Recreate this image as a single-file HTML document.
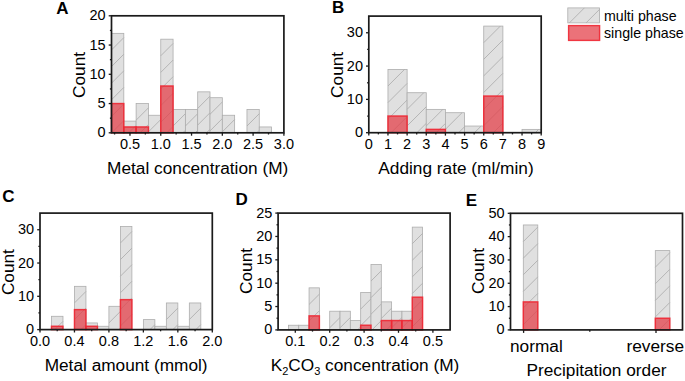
<!DOCTYPE html>
<html><head><meta charset="utf-8"><style>
html,body{margin:0;padding:0;background:#fff;width:685px;height:381px;overflow:hidden}
svg{display:block}
text{font-family:"Liberation Sans",sans-serif;fill:#000}
</style></head><body>
<svg width="685" height="381" viewBox="0 0 685 381">
<rect width="685" height="381" fill="#fff"/>

<rect x="111.5" y="33.35" width="12.31" height="99.45" fill="#e0e0e0"/>
<path d="M111.5,49.95L123.81,37.64M111.5,66.55L123.81,54.24M111.5,83.15L123.81,70.84M111.5,99.75L123.81,87.44M111.5,116.35L123.81,104.04M111.65,132.8L123.81,120.64" stroke="#a6a6a6" stroke-width="0.75" fill="none"/>
<rect x="111.5" y="33.35" width="12.31" height="99.45" fill="none" stroke="#adadad" stroke-width="0.8"/>
<rect x="123.81" y="121.1" width="12.31" height="11.7" fill="#e0e0e0"/>
<path d="M128.71,132.8L136.13,125.39" stroke="#a6a6a6" stroke-width="0.75" fill="none"/>
<rect x="123.81" y="121.1" width="12.31" height="11.7" fill="none" stroke="#adadad" stroke-width="0.8"/>
<rect x="136.13" y="103.55" width="12.31" height="29.25" fill="#e0e0e0"/>
<path d="M136.13,120.15L148.44,107.84M140.08,132.8L148.44,124.44" stroke="#a6a6a6" stroke-width="0.75" fill="none"/>
<rect x="136.13" y="103.55" width="12.31" height="29.25" fill="none" stroke="#adadad" stroke-width="0.8"/>
<rect x="148.44" y="115.25" width="12.31" height="17.55" fill="#e0e0e0"/>
<path d="M148.44,131.85L160.76,119.54" stroke="#a6a6a6" stroke-width="0.75" fill="none"/>
<rect x="148.44" y="115.25" width="12.31" height="17.55" fill="none" stroke="#adadad" stroke-width="0.8"/>
<rect x="160.76" y="39.2" width="12.31" height="93.6" fill="#e0e0e0"/>
<path d="M160.76,55.8L173.07,43.49M160.76,72.4L173.07,60.09M160.76,89L173.07,76.69M160.76,105.6L173.07,93.29M160.76,122.2L173.07,109.89M166.76,132.8L173.07,126.49" stroke="#a6a6a6" stroke-width="0.75" fill="none"/>
<rect x="160.76" y="39.2" width="12.31" height="93.6" fill="none" stroke="#adadad" stroke-width="0.8"/>
<rect x="173.07" y="109.4" width="12.31" height="23.4" fill="#e0e0e0"/>
<path d="M173.07,126L185.39,113.69M182.87,132.8L185.39,130.29" stroke="#a6a6a6" stroke-width="0.75" fill="none"/>
<rect x="173.07" y="109.4" width="12.31" height="23.4" fill="none" stroke="#adadad" stroke-width="0.8"/>
<rect x="185.39" y="109.4" width="12.31" height="23.4" fill="#e0e0e0"/>
<path d="M185.39,126L197.7,113.69M195.19,132.8L197.7,130.29" stroke="#a6a6a6" stroke-width="0.75" fill="none"/>
<rect x="185.39" y="109.4" width="12.31" height="23.4" fill="none" stroke="#adadad" stroke-width="0.8"/>
<rect x="197.7" y="91.85" width="12.31" height="40.95" fill="#e0e0e0"/>
<path d="M197.7,108.45L210.01,96.14M197.7,125.05L210.01,112.74M206.55,132.8L210.01,129.34" stroke="#a6a6a6" stroke-width="0.75" fill="none"/>
<rect x="197.7" y="91.85" width="12.31" height="40.95" fill="none" stroke="#adadad" stroke-width="0.8"/>
<rect x="210.01" y="97.7" width="12.31" height="35.1" fill="#e0e0e0"/>
<path d="M210.01,114.3L222.33,101.99M210.01,130.9L222.33,118.59" stroke="#a6a6a6" stroke-width="0.75" fill="none"/>
<rect x="210.01" y="97.7" width="12.31" height="35.1" fill="none" stroke="#adadad" stroke-width="0.8"/>
<rect x="222.33" y="115.25" width="12.31" height="17.55" fill="#e0e0e0"/>
<path d="M222.33,131.85L234.64,119.54" stroke="#a6a6a6" stroke-width="0.75" fill="none"/>
<rect x="222.33" y="115.25" width="12.31" height="17.55" fill="none" stroke="#adadad" stroke-width="0.8"/>
<rect x="246.96" y="109.4" width="12.31" height="23.4" fill="#e0e0e0"/>
<path d="M246.96,126L259.27,113.69M256.76,132.8L259.27,130.29" stroke="#a6a6a6" stroke-width="0.75" fill="none"/>
<rect x="246.96" y="109.4" width="12.31" height="23.4" fill="none" stroke="#adadad" stroke-width="0.8"/>
<rect x="259.27" y="126.95" width="12.31" height="5.85" fill="#e0e0e0"/>
<path d="M270.02,132.8L271.59,131.24" stroke="#a6a6a6" stroke-width="0.75" fill="none"/>
<rect x="259.27" y="126.95" width="12.31" height="5.85" fill="none" stroke="#adadad" stroke-width="0.8"/>
<rect x="111.5" y="103.55" width="12.31" height="29.25" fill="rgba(228,65,74,0.74)" stroke="rgba(240,38,50,0.9)" stroke-width="1.45"/>
<rect x="123.81" y="126.95" width="12.31" height="5.85" fill="rgba(228,65,74,0.74)" stroke="rgba(240,38,50,0.9)" stroke-width="1.45"/>
<rect x="136.13" y="126.95" width="12.31" height="5.85" fill="rgba(228,65,74,0.74)" stroke="rgba(240,38,50,0.9)" stroke-width="1.45"/>
<rect x="160.76" y="86" width="12.31" height="46.8" fill="rgba(228,65,74,0.74)" stroke="rgba(240,38,50,0.9)" stroke-width="1.45"/>
<line x1="129.97" y1="132.8" x2="129.97" y2="135.7" stroke="#1a1a1a" stroke-width="1.3"/>
<line x1="160.76" y1="132.8" x2="160.76" y2="135.7" stroke="#1a1a1a" stroke-width="1.3"/>
<line x1="191.54" y1="132.8" x2="191.54" y2="135.7" stroke="#1a1a1a" stroke-width="1.3"/>
<line x1="222.33" y1="132.8" x2="222.33" y2="135.7" stroke="#1a1a1a" stroke-width="1.3"/>
<line x1="253.11" y1="132.8" x2="253.11" y2="135.7" stroke="#1a1a1a" stroke-width="1.3"/>
<line x1="283.9" y1="132.8" x2="283.9" y2="135.7" stroke="#1a1a1a" stroke-width="1.3"/>
<line x1="114.58" y1="132.8" x2="114.58" y2="134.5" stroke="#1a1a1a" stroke-width="1.3"/>
<line x1="145.36" y1="132.8" x2="145.36" y2="134.5" stroke="#1a1a1a" stroke-width="1.3"/>
<line x1="176.15" y1="132.8" x2="176.15" y2="134.5" stroke="#1a1a1a" stroke-width="1.3"/>
<line x1="206.94" y1="132.8" x2="206.94" y2="134.5" stroke="#1a1a1a" stroke-width="1.3"/>
<line x1="237.72" y1="132.8" x2="237.72" y2="134.5" stroke="#1a1a1a" stroke-width="1.3"/>
<line x1="268.51" y1="132.8" x2="268.51" y2="134.5" stroke="#1a1a1a" stroke-width="1.3"/>
<line x1="108.7" y1="132.8" x2="111.5" y2="132.8" stroke="#1a1a1a" stroke-width="1.3"/>
<line x1="108.7" y1="103.55" x2="111.5" y2="103.55" stroke="#1a1a1a" stroke-width="1.3"/>
<line x1="108.7" y1="74.3" x2="111.5" y2="74.3" stroke="#1a1a1a" stroke-width="1.3"/>
<line x1="108.7" y1="45.05" x2="111.5" y2="45.05" stroke="#1a1a1a" stroke-width="1.3"/>
<line x1="108.7" y1="15.8" x2="111.5" y2="15.8" stroke="#1a1a1a" stroke-width="1.3"/>
<line x1="109.9" y1="118.18" x2="111.5" y2="118.18" stroke="#1a1a1a" stroke-width="1.3"/>
<line x1="109.9" y1="88.93" x2="111.5" y2="88.93" stroke="#1a1a1a" stroke-width="1.3"/>
<line x1="109.9" y1="59.67" x2="111.5" y2="59.67" stroke="#1a1a1a" stroke-width="1.3"/>
<line x1="109.9" y1="30.42" x2="111.5" y2="30.42" stroke="#1a1a1a" stroke-width="1.3"/>
<rect x="111.5" y="15.8" width="172.4" height="117" fill="none" stroke="#1a1a1a" stroke-width="1.7"/>
<text x="129.97" y="148.9" text-anchor="middle" font-size="14.5">0.5</text>
<text x="160.76" y="148.9" text-anchor="middle" font-size="14.5">1.0</text>
<text x="191.54" y="148.9" text-anchor="middle" font-size="14.5">1.5</text>
<text x="222.33" y="148.9" text-anchor="middle" font-size="14.5">2.0</text>
<text x="253.11" y="148.9" text-anchor="middle" font-size="14.5">2.5</text>
<text x="283.9" y="148.9" text-anchor="middle" font-size="14.5">3.0</text>
<text x="105.7" y="137.3" text-anchor="end" font-size="14.5">0</text>
<text x="105.7" y="108.05" text-anchor="end" font-size="14.5">5</text>
<text x="105.7" y="78.8" text-anchor="end" font-size="14.5">10</text>
<text x="105.7" y="49.55" text-anchor="end" font-size="14.5">15</text>
<text x="105.7" y="20.3" text-anchor="end" font-size="14.5">20</text>
<text x="197.7" y="173.7" text-anchor="middle" font-size="17.25">Metal concentration (M)</text>
<text transform="translate(84.9,75) rotate(-90)" text-anchor="middle" font-size="17.25">Count</text>
<text x="56.2" y="13.9" font-size="17" font-weight="bold">A</text>
<rect x="387.96" y="69.4" width="19.16" height="63.3" fill="#e0e0e0"/>
<path d="M387.96,86L404.56,69.4M387.96,102.6L407.11,83.45M387.96,119.2L407.11,100.05M391.06,132.7L407.11,116.65" stroke="#a6a6a6" stroke-width="0.75" fill="none"/>
<rect x="387.96" y="69.4" width="19.16" height="63.3" fill="none" stroke="#adadad" stroke-width="0.8"/>
<rect x="407.11" y="92.72" width="19.16" height="39.98" fill="#e0e0e0"/>
<path d="M407.11,109.32L423.71,92.72M407.11,125.92L426.27,106.77M416.93,132.7L426.27,123.37" stroke="#a6a6a6" stroke-width="0.75" fill="none"/>
<rect x="407.11" y="92.72" width="19.16" height="39.98" fill="none" stroke="#adadad" stroke-width="0.8"/>
<rect x="426.27" y="109.38" width="19.16" height="23.32" fill="#e0e0e0"/>
<path d="M426.27,125.98L442.87,109.38M436.15,132.7L445.42,123.42" stroke="#a6a6a6" stroke-width="0.75" fill="none"/>
<rect x="426.27" y="109.38" width="19.16" height="23.32" fill="none" stroke="#adadad" stroke-width="0.8"/>
<rect x="445.42" y="112.71" width="19.16" height="19.99" fill="#e0e0e0"/>
<path d="M445.42,129.31L462.02,112.71M458.63,132.7L464.58,126.76" stroke="#a6a6a6" stroke-width="0.75" fill="none"/>
<rect x="445.42" y="112.71" width="19.16" height="19.99" fill="none" stroke="#adadad" stroke-width="0.8"/>
<rect x="464.58" y="126.04" width="19.16" height="6.66" fill="#e0e0e0"/>
<path d="M474.51,132.7L481.18,126.04" stroke="#a6a6a6" stroke-width="0.75" fill="none"/>
<rect x="464.58" y="126.04" width="19.16" height="6.66" fill="none" stroke="#adadad" stroke-width="0.8"/>
<rect x="483.73" y="26.09" width="19.16" height="106.61" fill="#e0e0e0"/>
<path d="M483.73,42.69L500.33,26.09M483.73,59.29L502.89,40.14M483.73,75.89L502.89,56.74M483.73,92.49L502.89,73.34M483.73,109.09L502.89,89.94M483.73,125.69L502.89,106.54M493.33,132.7L502.89,123.14" stroke="#a6a6a6" stroke-width="0.75" fill="none"/>
<rect x="483.73" y="26.09" width="19.16" height="106.61" fill="none" stroke="#adadad" stroke-width="0.8"/>
<rect x="522.04" y="129.37" width="19.16" height="3.33" fill="#e0e0e0"/>
<path d="M535.31,132.7L538.64,129.37" stroke="#a6a6a6" stroke-width="0.75" fill="none"/>
<rect x="522.04" y="129.37" width="19.16" height="3.33" fill="none" stroke="#adadad" stroke-width="0.8"/>
<rect x="387.96" y="116.04" width="19.16" height="16.66" fill="rgba(228,65,74,0.74)" stroke="rgba(240,38,50,0.9)" stroke-width="1.45"/>
<rect x="426.27" y="129.37" width="19.16" height="3.33" fill="rgba(228,65,74,0.74)" stroke="rgba(240,38,50,0.9)" stroke-width="1.45"/>
<rect x="483.73" y="96.05" width="19.16" height="36.65" fill="rgba(228,65,74,0.74)" stroke="rgba(240,38,50,0.9)" stroke-width="1.45"/>
<line x1="368.8" y1="132.7" x2="368.8" y2="135.6" stroke="#1a1a1a" stroke-width="1.3"/>
<line x1="387.96" y1="132.7" x2="387.96" y2="135.6" stroke="#1a1a1a" stroke-width="1.3"/>
<line x1="407.11" y1="132.7" x2="407.11" y2="135.6" stroke="#1a1a1a" stroke-width="1.3"/>
<line x1="426.27" y1="132.7" x2="426.27" y2="135.6" stroke="#1a1a1a" stroke-width="1.3"/>
<line x1="445.42" y1="132.7" x2="445.42" y2="135.6" stroke="#1a1a1a" stroke-width="1.3"/>
<line x1="464.58" y1="132.7" x2="464.58" y2="135.6" stroke="#1a1a1a" stroke-width="1.3"/>
<line x1="483.73" y1="132.7" x2="483.73" y2="135.6" stroke="#1a1a1a" stroke-width="1.3"/>
<line x1="502.89" y1="132.7" x2="502.89" y2="135.6" stroke="#1a1a1a" stroke-width="1.3"/>
<line x1="522.04" y1="132.7" x2="522.04" y2="135.6" stroke="#1a1a1a" stroke-width="1.3"/>
<line x1="541.2" y1="132.7" x2="541.2" y2="135.6" stroke="#1a1a1a" stroke-width="1.3"/>
<line x1="378.38" y1="132.7" x2="378.38" y2="134.4" stroke="#1a1a1a" stroke-width="1.3"/>
<line x1="397.53" y1="132.7" x2="397.53" y2="134.4" stroke="#1a1a1a" stroke-width="1.3"/>
<line x1="416.69" y1="132.7" x2="416.69" y2="134.4" stroke="#1a1a1a" stroke-width="1.3"/>
<line x1="435.84" y1="132.7" x2="435.84" y2="134.4" stroke="#1a1a1a" stroke-width="1.3"/>
<line x1="455" y1="132.7" x2="455" y2="134.4" stroke="#1a1a1a" stroke-width="1.3"/>
<line x1="474.16" y1="132.7" x2="474.16" y2="134.4" stroke="#1a1a1a" stroke-width="1.3"/>
<line x1="493.31" y1="132.7" x2="493.31" y2="134.4" stroke="#1a1a1a" stroke-width="1.3"/>
<line x1="512.47" y1="132.7" x2="512.47" y2="134.4" stroke="#1a1a1a" stroke-width="1.3"/>
<line x1="531.62" y1="132.7" x2="531.62" y2="134.4" stroke="#1a1a1a" stroke-width="1.3"/>
<line x1="366" y1="132.7" x2="368.8" y2="132.7" stroke="#1a1a1a" stroke-width="1.3"/>
<line x1="366" y1="99.39" x2="368.8" y2="99.39" stroke="#1a1a1a" stroke-width="1.3"/>
<line x1="366" y1="66.07" x2="368.8" y2="66.07" stroke="#1a1a1a" stroke-width="1.3"/>
<line x1="366" y1="32.76" x2="368.8" y2="32.76" stroke="#1a1a1a" stroke-width="1.3"/>
<line x1="367.2" y1="116.04" x2="368.8" y2="116.04" stroke="#1a1a1a" stroke-width="1.3"/>
<line x1="367.2" y1="82.73" x2="368.8" y2="82.73" stroke="#1a1a1a" stroke-width="1.3"/>
<line x1="367.2" y1="49.41" x2="368.8" y2="49.41" stroke="#1a1a1a" stroke-width="1.3"/>
<rect x="368.8" y="16.1" width="172.4" height="116.6" fill="none" stroke="#1a1a1a" stroke-width="1.7"/>
<text x="368.8" y="148.8" text-anchor="middle" font-size="14.5">0</text>
<text x="387.96" y="148.8" text-anchor="middle" font-size="14.5">1</text>
<text x="407.11" y="148.8" text-anchor="middle" font-size="14.5">2</text>
<text x="426.27" y="148.8" text-anchor="middle" font-size="14.5">3</text>
<text x="445.42" y="148.8" text-anchor="middle" font-size="14.5">4</text>
<text x="464.58" y="148.8" text-anchor="middle" font-size="14.5">5</text>
<text x="483.73" y="148.8" text-anchor="middle" font-size="14.5">6</text>
<text x="502.89" y="148.8" text-anchor="middle" font-size="14.5">7</text>
<text x="522.04" y="148.8" text-anchor="middle" font-size="14.5">8</text>
<text x="541.2" y="148.8" text-anchor="middle" font-size="14.5">9</text>
<text x="363" y="137.2" text-anchor="end" font-size="14.5">0</text>
<text x="363" y="103.89" text-anchor="end" font-size="14.5">10</text>
<text x="363" y="70.57" text-anchor="end" font-size="14.5">20</text>
<text x="363" y="37.26" text-anchor="end" font-size="14.5">30</text>
<text x="456" y="173.5" text-anchor="middle" font-size="17.25">Adding rate (ml/min)</text>
<text transform="translate(343.2,74.9) rotate(-90)" text-anchor="middle" font-size="17.25">Count</text>
<text x="332" y="13.2" font-size="17" font-weight="bold">B</text>
<rect x="51.49" y="316.29" width="11.49" height="13.31" fill="#e0e0e0"/>
<path d="M54.77,329.6L62.97,321.4" stroke="#a6a6a6" stroke-width="0.75" fill="none"/>
<rect x="51.49" y="316.29" width="11.49" height="13.31" fill="none" stroke="#adadad" stroke-width="0.8"/>
<rect x="74.46" y="286.33" width="11.49" height="43.27" fill="#e0e0e0"/>
<path d="M74.46,302.93L85.95,291.44M74.46,319.53L85.95,308.04M80.99,329.6L85.95,324.64" stroke="#a6a6a6" stroke-width="0.75" fill="none"/>
<rect x="74.46" y="286.33" width="11.49" height="43.27" fill="none" stroke="#adadad" stroke-width="0.8"/>
<rect x="85.95" y="322.94" width="11.49" height="6.66" fill="#e0e0e0"/>
<path d="M95.89,329.6L97.43,328.06" stroke="#a6a6a6" stroke-width="0.75" fill="none"/>
<rect x="85.95" y="322.94" width="11.49" height="6.66" fill="none" stroke="#adadad" stroke-width="0.8"/>
<rect x="97.43" y="326.27" width="11.49" height="3.33" fill="#e0e0e0"/>
<rect x="97.43" y="326.27" width="11.49" height="3.33" fill="none" stroke="#adadad" stroke-width="0.8"/>
<rect x="108.92" y="306.3" width="11.49" height="23.3" fill="#e0e0e0"/>
<path d="M108.92,322.9L120.41,311.41M118.82,329.6L120.41,328.01" stroke="#a6a6a6" stroke-width="0.75" fill="none"/>
<rect x="108.92" y="306.3" width="11.49" height="23.3" fill="none" stroke="#adadad" stroke-width="0.8"/>
<rect x="120.41" y="226.41" width="11.49" height="103.19" fill="#e0e0e0"/>
<path d="M120.41,243.01L131.89,231.53M120.41,259.61L131.89,248.13M120.41,276.21L131.89,264.73M120.41,292.81L131.89,281.33M120.41,309.41L131.89,297.93M120.41,326.01L131.89,314.53" stroke="#a6a6a6" stroke-width="0.75" fill="none"/>
<rect x="120.41" y="226.41" width="11.49" height="103.19" fill="none" stroke="#adadad" stroke-width="0.8"/>
<rect x="143.38" y="319.61" width="11.49" height="9.99" fill="#e0e0e0"/>
<path d="M149.99,329.6L154.87,324.73" stroke="#a6a6a6" stroke-width="0.75" fill="none"/>
<rect x="143.38" y="319.61" width="11.49" height="9.99" fill="none" stroke="#adadad" stroke-width="0.8"/>
<rect x="154.87" y="326.27" width="11.49" height="3.33" fill="#e0e0e0"/>
<rect x="154.87" y="326.27" width="11.49" height="3.33" fill="none" stroke="#adadad" stroke-width="0.8"/>
<rect x="166.35" y="302.97" width="11.49" height="26.63" fill="#e0e0e0"/>
<path d="M166.35,319.57L177.84,308.08M172.92,329.6L177.84,324.68" stroke="#a6a6a6" stroke-width="0.75" fill="none"/>
<rect x="166.35" y="302.97" width="11.49" height="26.63" fill="none" stroke="#adadad" stroke-width="0.8"/>
<rect x="177.84" y="326.27" width="11.49" height="3.33" fill="#e0e0e0"/>
<rect x="177.84" y="326.27" width="11.49" height="3.33" fill="none" stroke="#adadad" stroke-width="0.8"/>
<rect x="189.33" y="302.97" width="11.49" height="26.63" fill="#e0e0e0"/>
<path d="M189.33,319.57L200.81,308.08M195.9,329.6L200.81,324.68" stroke="#a6a6a6" stroke-width="0.75" fill="none"/>
<rect x="189.33" y="302.97" width="11.49" height="26.63" fill="none" stroke="#adadad" stroke-width="0.8"/>
<rect x="51.49" y="326.27" width="11.49" height="3.33" fill="rgba(228,65,74,0.74)" stroke="rgba(240,38,50,0.9)" stroke-width="1.45"/>
<rect x="74.46" y="309.63" width="11.49" height="19.97" fill="rgba(228,65,74,0.74)" stroke="rgba(240,38,50,0.9)" stroke-width="1.45"/>
<rect x="85.95" y="326.27" width="11.49" height="3.33" fill="rgba(228,65,74,0.74)" stroke="rgba(240,38,50,0.9)" stroke-width="1.45"/>
<rect x="120.41" y="299.64" width="11.49" height="29.96" fill="rgba(228,65,74,0.74)" stroke="rgba(240,38,50,0.9)" stroke-width="1.45"/>
<line x1="40" y1="329.6" x2="40" y2="332.5" stroke="#1a1a1a" stroke-width="1.3"/>
<line x1="74.46" y1="329.6" x2="74.46" y2="332.5" stroke="#1a1a1a" stroke-width="1.3"/>
<line x1="108.92" y1="329.6" x2="108.92" y2="332.5" stroke="#1a1a1a" stroke-width="1.3"/>
<line x1="143.38" y1="329.6" x2="143.38" y2="332.5" stroke="#1a1a1a" stroke-width="1.3"/>
<line x1="177.84" y1="329.6" x2="177.84" y2="332.5" stroke="#1a1a1a" stroke-width="1.3"/>
<line x1="212.3" y1="329.6" x2="212.3" y2="332.5" stroke="#1a1a1a" stroke-width="1.3"/>
<line x1="57.23" y1="329.6" x2="57.23" y2="331.3" stroke="#1a1a1a" stroke-width="1.3"/>
<line x1="91.69" y1="329.6" x2="91.69" y2="331.3" stroke="#1a1a1a" stroke-width="1.3"/>
<line x1="126.15" y1="329.6" x2="126.15" y2="331.3" stroke="#1a1a1a" stroke-width="1.3"/>
<line x1="160.61" y1="329.6" x2="160.61" y2="331.3" stroke="#1a1a1a" stroke-width="1.3"/>
<line x1="195.07" y1="329.6" x2="195.07" y2="331.3" stroke="#1a1a1a" stroke-width="1.3"/>
<line x1="37.2" y1="329.6" x2="40" y2="329.6" stroke="#1a1a1a" stroke-width="1.3"/>
<line x1="37.2" y1="296.31" x2="40" y2="296.31" stroke="#1a1a1a" stroke-width="1.3"/>
<line x1="37.2" y1="263.03" x2="40" y2="263.03" stroke="#1a1a1a" stroke-width="1.3"/>
<line x1="37.2" y1="229.74" x2="40" y2="229.74" stroke="#1a1a1a" stroke-width="1.3"/>
<line x1="38.4" y1="312.96" x2="40" y2="312.96" stroke="#1a1a1a" stroke-width="1.3"/>
<line x1="38.4" y1="279.67" x2="40" y2="279.67" stroke="#1a1a1a" stroke-width="1.3"/>
<line x1="38.4" y1="246.39" x2="40" y2="246.39" stroke="#1a1a1a" stroke-width="1.3"/>
<rect x="40" y="213.1" width="172.3" height="116.5" fill="none" stroke="#1a1a1a" stroke-width="1.7"/>
<text x="40" y="345.7" text-anchor="middle" font-size="14.5">0.0</text>
<text x="74.46" y="345.7" text-anchor="middle" font-size="14.5">0.4</text>
<text x="108.92" y="345.7" text-anchor="middle" font-size="14.5">0.8</text>
<text x="143.38" y="345.7" text-anchor="middle" font-size="14.5">1.2</text>
<text x="177.84" y="345.7" text-anchor="middle" font-size="14.5">1.6</text>
<text x="212.3" y="345.7" text-anchor="middle" font-size="14.5">2.0</text>
<text x="34.2" y="334.1" text-anchor="end" font-size="14.5">0</text>
<text x="34.2" y="300.81" text-anchor="end" font-size="14.5">10</text>
<text x="34.2" y="267.53" text-anchor="end" font-size="14.5">20</text>
<text x="34.2" y="234.24" text-anchor="end" font-size="14.5">30</text>
<text x="126.15" y="370.8" text-anchor="middle" font-size="17.25">Metal amount (mmol)</text>
<text transform="translate(13.8,272.1) rotate(-90)" text-anchor="middle" font-size="17.25">Count</text>
<text x="2.3" y="201.7" font-size="17" font-weight="bold">C</text>
<rect x="288.42" y="325.23" width="10.32" height="4.67" fill="#e0e0e0"/>
<rect x="288.42" y="325.23" width="10.32" height="4.67" fill="none" stroke="#adadad" stroke-width="0.8"/>
<rect x="298.74" y="325.23" width="10.32" height="4.67" fill="#e0e0e0"/>
<rect x="298.74" y="325.23" width="10.32" height="4.67" fill="none" stroke="#adadad" stroke-width="0.8"/>
<rect x="309.06" y="287.85" width="10.32" height="42.05" fill="#e0e0e0"/>
<path d="M309.06,304.45L319.38,294.13M309.06,321.05L319.38,310.73M316.81,329.9L319.38,327.33" stroke="#a6a6a6" stroke-width="0.75" fill="none"/>
<rect x="309.06" y="287.85" width="10.32" height="42.05" fill="none" stroke="#adadad" stroke-width="0.8"/>
<rect x="329.7" y="311.21" width="10.32" height="18.69" fill="#e0e0e0"/>
<path d="M329.7,327.81L340.02,317.49" stroke="#a6a6a6" stroke-width="0.75" fill="none"/>
<rect x="329.7" y="311.21" width="10.32" height="18.69" fill="none" stroke="#adadad" stroke-width="0.8"/>
<rect x="340.02" y="311.21" width="10.32" height="18.69" fill="#e0e0e0"/>
<path d="M340.02,327.81L350.34,317.49" stroke="#a6a6a6" stroke-width="0.75" fill="none"/>
<rect x="340.02" y="311.21" width="10.32" height="18.69" fill="none" stroke="#adadad" stroke-width="0.8"/>
<rect x="350.34" y="320.56" width="10.32" height="9.34" fill="#e0e0e0"/>
<path d="M357.6,329.9L360.66,326.84" stroke="#a6a6a6" stroke-width="0.75" fill="none"/>
<rect x="350.34" y="320.56" width="10.32" height="9.34" fill="none" stroke="#adadad" stroke-width="0.8"/>
<rect x="360.66" y="292.52" width="10.32" height="37.38" fill="#e0e0e0"/>
<path d="M360.66,309.12L370.98,298.8M360.66,325.72L370.98,315.4" stroke="#a6a6a6" stroke-width="0.75" fill="none"/>
<rect x="360.66" y="292.52" width="10.32" height="37.38" fill="none" stroke="#adadad" stroke-width="0.8"/>
<rect x="370.98" y="264.49" width="10.32" height="65.41" fill="#e0e0e0"/>
<path d="M370.98,281.09L381.3,270.77M370.98,297.69L381.3,287.37M370.98,314.29L381.3,303.97M371.97,329.9L381.3,320.57" stroke="#a6a6a6" stroke-width="0.75" fill="none"/>
<rect x="370.98" y="264.49" width="10.32" height="65.41" fill="none" stroke="#adadad" stroke-width="0.8"/>
<rect x="381.3" y="301.87" width="10.32" height="28.03" fill="#e0e0e0"/>
<path d="M381.3,318.47L391.62,308.15M386.47,329.9L391.62,324.75" stroke="#a6a6a6" stroke-width="0.75" fill="none"/>
<rect x="381.3" y="301.87" width="10.32" height="28.03" fill="none" stroke="#adadad" stroke-width="0.8"/>
<rect x="391.62" y="311.21" width="10.32" height="18.69" fill="#e0e0e0"/>
<path d="M391.62,327.81L401.94,317.49" stroke="#a6a6a6" stroke-width="0.75" fill="none"/>
<rect x="391.62" y="311.21" width="10.32" height="18.69" fill="none" stroke="#adadad" stroke-width="0.8"/>
<rect x="401.94" y="311.21" width="10.32" height="18.69" fill="#e0e0e0"/>
<path d="M401.94,327.81L412.26,317.49" stroke="#a6a6a6" stroke-width="0.75" fill="none"/>
<rect x="401.94" y="311.21" width="10.32" height="18.69" fill="none" stroke="#adadad" stroke-width="0.8"/>
<rect x="412.26" y="227.12" width="10.32" height="102.78" fill="#e0e0e0"/>
<path d="M412.26,243.72L422.58,233.4M412.26,260.32L422.58,250M412.26,276.92L422.58,266.6M412.26,293.52L422.58,283.2M412.26,310.12L422.58,299.8M412.26,326.72L422.58,316.4" stroke="#a6a6a6" stroke-width="0.75" fill="none"/>
<rect x="412.26" y="227.12" width="10.32" height="102.78" fill="none" stroke="#adadad" stroke-width="0.8"/>
<rect x="309.06" y="315.88" width="10.32" height="14.02" fill="rgba(228,65,74,0.74)" stroke="rgba(240,38,50,0.9)" stroke-width="1.45"/>
<rect x="360.66" y="325.23" width="10.32" height="4.67" fill="rgba(228,65,74,0.74)" stroke="rgba(240,38,50,0.9)" stroke-width="1.45"/>
<rect x="381.3" y="320.56" width="10.32" height="9.34" fill="rgba(228,65,74,0.74)" stroke="rgba(240,38,50,0.9)" stroke-width="1.45"/>
<rect x="391.62" y="320.56" width="10.32" height="9.34" fill="rgba(228,65,74,0.74)" stroke="rgba(240,38,50,0.9)" stroke-width="1.45"/>
<rect x="401.94" y="320.56" width="10.32" height="9.34" fill="rgba(228,65,74,0.74)" stroke="rgba(240,38,50,0.9)" stroke-width="1.45"/>
<rect x="412.26" y="297.2" width="10.32" height="32.7" fill="rgba(228,65,74,0.74)" stroke="rgba(240,38,50,0.9)" stroke-width="1.45"/>
<line x1="295.3" y1="329.9" x2="295.3" y2="332.8" stroke="#1a1a1a" stroke-width="1.3"/>
<line x1="329.7" y1="329.9" x2="329.7" y2="332.8" stroke="#1a1a1a" stroke-width="1.3"/>
<line x1="364.1" y1="329.9" x2="364.1" y2="332.8" stroke="#1a1a1a" stroke-width="1.3"/>
<line x1="398.5" y1="329.9" x2="398.5" y2="332.8" stroke="#1a1a1a" stroke-width="1.3"/>
<line x1="432.9" y1="329.9" x2="432.9" y2="332.8" stroke="#1a1a1a" stroke-width="1.3"/>
<line x1="312.5" y1="329.9" x2="312.5" y2="331.6" stroke="#1a1a1a" stroke-width="1.3"/>
<line x1="346.9" y1="329.9" x2="346.9" y2="331.6" stroke="#1a1a1a" stroke-width="1.3"/>
<line x1="381.3" y1="329.9" x2="381.3" y2="331.6" stroke="#1a1a1a" stroke-width="1.3"/>
<line x1="415.7" y1="329.9" x2="415.7" y2="331.6" stroke="#1a1a1a" stroke-width="1.3"/>
<line x1="275.3" y1="329.9" x2="278.1" y2="329.9" stroke="#1a1a1a" stroke-width="1.3"/>
<line x1="275.3" y1="306.54" x2="278.1" y2="306.54" stroke="#1a1a1a" stroke-width="1.3"/>
<line x1="275.3" y1="283.18" x2="278.1" y2="283.18" stroke="#1a1a1a" stroke-width="1.3"/>
<line x1="275.3" y1="259.82" x2="278.1" y2="259.82" stroke="#1a1a1a" stroke-width="1.3"/>
<line x1="275.3" y1="236.46" x2="278.1" y2="236.46" stroke="#1a1a1a" stroke-width="1.3"/>
<line x1="275.3" y1="213.1" x2="278.1" y2="213.1" stroke="#1a1a1a" stroke-width="1.3"/>
<line x1="276.5" y1="318.22" x2="278.1" y2="318.22" stroke="#1a1a1a" stroke-width="1.3"/>
<line x1="276.5" y1="294.86" x2="278.1" y2="294.86" stroke="#1a1a1a" stroke-width="1.3"/>
<line x1="276.5" y1="271.5" x2="278.1" y2="271.5" stroke="#1a1a1a" stroke-width="1.3"/>
<line x1="276.5" y1="248.14" x2="278.1" y2="248.14" stroke="#1a1a1a" stroke-width="1.3"/>
<line x1="276.5" y1="224.78" x2="278.1" y2="224.78" stroke="#1a1a1a" stroke-width="1.3"/>
<rect x="278.1" y="213.1" width="172" height="116.8" fill="none" stroke="#1a1a1a" stroke-width="1.7"/>
<text x="295.3" y="346" text-anchor="middle" font-size="14.5">0.1</text>
<text x="329.7" y="346" text-anchor="middle" font-size="14.5">0.2</text>
<text x="364.1" y="346" text-anchor="middle" font-size="14.5">0.3</text>
<text x="398.5" y="346" text-anchor="middle" font-size="14.5">0.4</text>
<text x="432.9" y="346" text-anchor="middle" font-size="14.5">0.5</text>
<text x="272.3" y="334.4" text-anchor="end" font-size="14.5">0</text>
<text x="272.3" y="311.04" text-anchor="end" font-size="14.5">5</text>
<text x="272.3" y="287.68" text-anchor="end" font-size="14.5">10</text>
<text x="272.3" y="264.32" text-anchor="end" font-size="14.5">15</text>
<text x="272.3" y="240.96" text-anchor="end" font-size="14.5">20</text>
<text x="272.3" y="217.6" text-anchor="end" font-size="14.5">25</text>
<text x="365" y="371" text-anchor="middle" font-size="17.25">K<tspan font-size="11" dy="4.4">2</tspan><tspan dy="-4.4">CO</tspan><tspan font-size="11" dy="4.4">3</tspan><tspan dy="-4.4"> concentration (M)</tspan></text>
<text transform="translate(251.8,271) rotate(-90)" text-anchor="middle" font-size="17.25">Count</text>
<text x="235.5" y="204.6" font-size="17" font-weight="bold">D</text>
<rect x="523.3" y="224.96" width="14.5" height="104.94" fill="#e0e0e0"/>
<path d="M523.3,241.56L537.8,227.06M523.3,258.16L537.8,243.66M523.3,274.76L537.8,260.26M523.3,291.36L537.8,276.86M523.3,307.96L537.8,293.46M523.3,324.56L537.8,310.06M534.56,329.9L537.8,326.66" stroke="#a6a6a6" stroke-width="0.75" fill="none"/>
<rect x="523.3" y="224.96" width="14.5" height="104.94" fill="none" stroke="#adadad" stroke-width="0.8"/>
<rect x="655.3" y="250.61" width="14.5" height="79.29" fill="#e0e0e0"/>
<path d="M655.3,267.21L669.8,252.71M655.3,283.81L669.8,269.31M655.3,300.41L669.8,285.91M655.3,317.01L669.8,302.51M659.01,329.9L669.8,319.11" stroke="#a6a6a6" stroke-width="0.75" fill="none"/>
<rect x="655.3" y="250.61" width="14.5" height="79.29" fill="none" stroke="#adadad" stroke-width="0.8"/>
<rect x="523.3" y="301.92" width="14.5" height="27.98" fill="rgba(228,65,74,0.74)" stroke="rgba(240,38,50,0.9)" stroke-width="1.45"/>
<rect x="655.3" y="318.24" width="14.5" height="11.66" fill="rgba(228,65,74,0.74)" stroke="rgba(240,38,50,0.9)" stroke-width="1.45"/>
<line x1="523.6" y1="329.9" x2="523.6" y2="332.9" stroke="#1a1a1a" stroke-width="1.3"/>
<line x1="656" y1="329.9" x2="656" y2="332.9" stroke="#1a1a1a" stroke-width="1.3"/>
<line x1="589.8" y1="329.9" x2="589.8" y2="331.7" stroke="#1a1a1a" stroke-width="1.3"/>
<line x1="507.7" y1="329.9" x2="510.5" y2="329.9" stroke="#1a1a1a" stroke-width="1.3"/>
<line x1="507.7" y1="306.58" x2="510.5" y2="306.58" stroke="#1a1a1a" stroke-width="1.3"/>
<line x1="507.7" y1="283.26" x2="510.5" y2="283.26" stroke="#1a1a1a" stroke-width="1.3"/>
<line x1="507.7" y1="259.94" x2="510.5" y2="259.94" stroke="#1a1a1a" stroke-width="1.3"/>
<line x1="507.7" y1="236.62" x2="510.5" y2="236.62" stroke="#1a1a1a" stroke-width="1.3"/>
<line x1="507.7" y1="213.3" x2="510.5" y2="213.3" stroke="#1a1a1a" stroke-width="1.3"/>
<line x1="508.9" y1="318.24" x2="510.5" y2="318.24" stroke="#1a1a1a" stroke-width="1.3"/>
<line x1="508.9" y1="294.92" x2="510.5" y2="294.92" stroke="#1a1a1a" stroke-width="1.3"/>
<line x1="508.9" y1="271.6" x2="510.5" y2="271.6" stroke="#1a1a1a" stroke-width="1.3"/>
<line x1="508.9" y1="248.28" x2="510.5" y2="248.28" stroke="#1a1a1a" stroke-width="1.3"/>
<line x1="508.9" y1="224.96" x2="510.5" y2="224.96" stroke="#1a1a1a" stroke-width="1.3"/>
<rect x="510.5" y="213.3" width="172" height="116.6" fill="none" stroke="#1a1a1a" stroke-width="1.7"/>
<text x="504.7" y="334.4" text-anchor="end" font-size="14.5">0</text>
<text x="504.7" y="311.08" text-anchor="end" font-size="14.5">10</text>
<text x="504.7" y="287.76" text-anchor="end" font-size="14.5">20</text>
<text x="504.7" y="264.44" text-anchor="end" font-size="14.5">30</text>
<text x="504.7" y="241.12" text-anchor="end" font-size="14.5">40</text>
<text x="504.7" y="217.8" text-anchor="end" font-size="14.5">50</text>
<text x="510" y="352" font-size="17.25">normal</text>
<text x="684" y="352" text-anchor="end" font-size="17.25">reverse</text>
<text x="596.5" y="375.8" text-anchor="middle" font-size="17.25">Precipitation order</text>
<text transform="translate(483.6,271) rotate(-90)" text-anchor="middle" font-size="17.25">Count</text>
<text x="465.8" y="206" font-size="17" font-weight="bold">E</text>
<rect x="567.8" y="7.9" width="31.8" height="15" fill="#e0e0e0"/>
<path d="M569.4,22.9L584.4,7.9M586,22.9L599.6,9.3" stroke="#a6a6a6" stroke-width="0.75" fill="none"/>
<rect x="567.8" y="7.9" width="31.8" height="15" fill="none" stroke="#adadad" stroke-width="0.8"/>
<rect x="568.6" y="25.6" width="31" height="14.8" fill="rgba(228,65,74,0.74)" stroke="rgba(240,38,50,0.9)" stroke-width="1.4"/>
<text x="604" y="20.8" font-size="14.2">multi phase</text>
<text x="604" y="38" font-size="14.2">single phase</text>
</svg></body></html>
